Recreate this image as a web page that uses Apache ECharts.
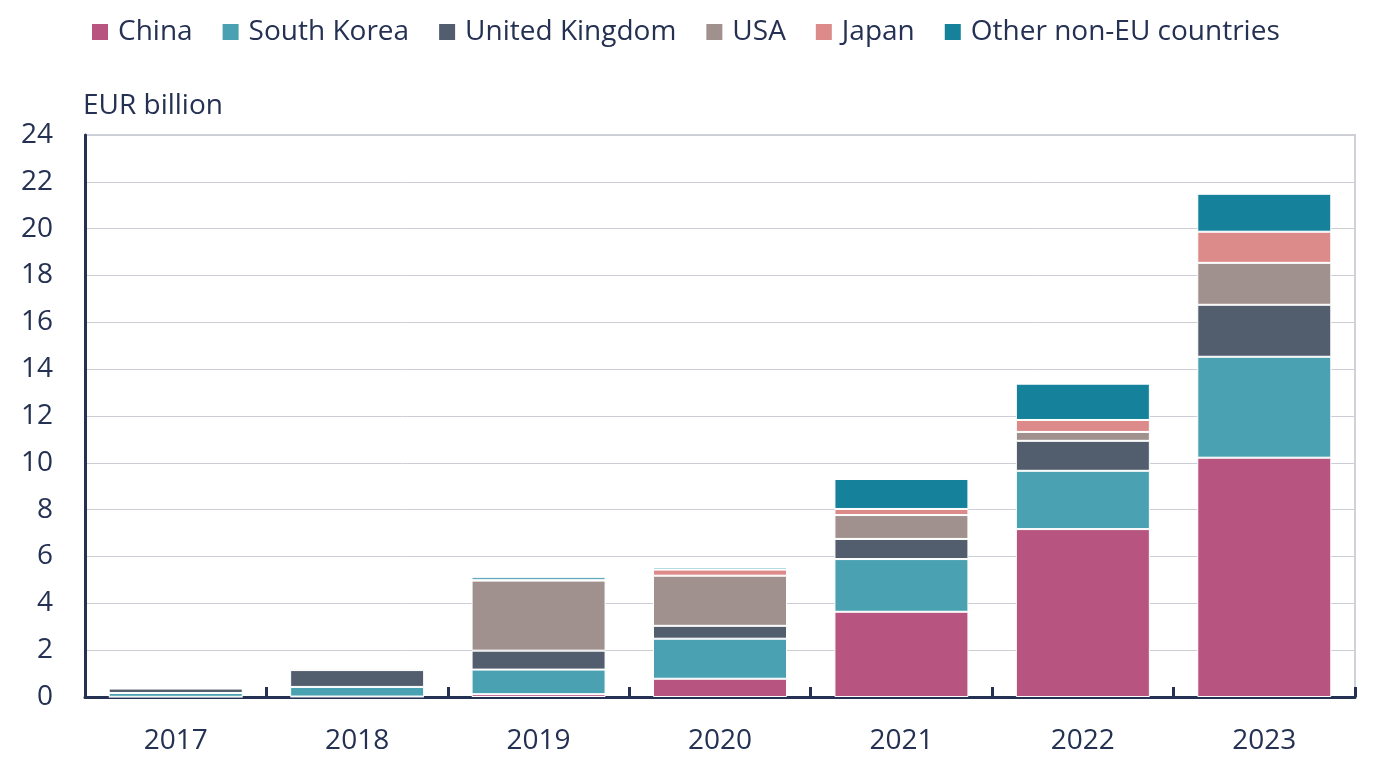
<!DOCTYPE html>
<html>
<head>
<meta charset="utf-8">
<script src="https://cdn.jsdelivr.net/npm/echarts@6/dist/echarts.min.js"></script>
<style>
html,body{margin:0;padding:0;background:#fff;}
#chart{width:1392px;height:766px;}
</style>
</head>
<body>
<div id="chart"></div>
<script>
const years = ['2017','2018','2019','2020','2021','2022','2023'];
const china = [0.01, 0.02, 0.12, 0.78, 3.64, 7.17, 10.22];
const southKorea = [0.16, 0.41, 1.05, 1.71, 2.25, 2.49, 4.31];
const unitedKingdom = [0.19, 0.72, 0.81, 0.55, 0.86, 1.28, 2.22];
const usa = [0.01, 0.08, 2.99, 2.14, 1.02, 0.38, 1.79];
const japan = [0.01, 0.01, 0.02, 0.26, 0.26, 0.51, 1.33];
const otherNonEU = [0.01, 0.01, 0.12, 0.09, 1.28, 1.55, 1.62];
const yTicks = [0, 24, 2];

const navy = '#253152';
const font = 'Open Sans';

const seriesDefs = [
  ['China', china, '#b7547f'],
  ['South Korea', southKorea, '#4aa1b1'],
  ['United Kingdom', unitedKingdom, '#525e6e'],
  ['USA', usa, '#a0918f'],
  ['Japan', japan, '#dc8b8a'],
  ['Other non-EU countries', otherNonEU, '#15819b']
];

const chart = echarts.init(document.getElementById('chart'), null, {renderer: 'canvas'});
chart.setOption({
  animation: false,
  textStyle: {fontFamily: font},
  legend: {
    top: 13,
    left: 85,
    itemWidth: 18,
    itemHeight: 18,
    itemGap: 28,
    icon: 'rect',
    textStyle: {fontFamily: font, fontSize: 28, color: navy, padding: [0, 0, 0, 4]},
    data: seriesDefs.map(d => d[0])
  },
  graphic: [{
    type: 'text',
    left: 83,
    top: 92,
    style: {text: 'EUR billion', font: '28px "Open Sans"', fill: navy}
  }],
  grid: {
    left: 85, right: 37, top: 135, bottom: 69,
    show: true, borderColor: '#cfd2d8', borderWidth: 2, backgroundColor: 'transparent'
  },
  xAxis: {
    type: 'category',
    data: years,
    boundaryGap: true,
    axisLine: {lineStyle: {color: navy, width: 3}},
    axisTick: {show: true, inside: true, length: 10, lineStyle: {color: navy, width: 3}},
    axisLabel: {fontFamily: font, fontSize: 28, color: navy, margin: 30}
  },
  yAxis: {
    type: 'value',
    min: yTicks[0], max: yTicks[1], interval: yTicks[2],
    axisLine: {show: true, lineStyle: {color: navy, width: 3}},
    axisTick: {show: false},
    axisLabel: {fontFamily: font, fontSize: 28, color: navy, margin: 32},
    splitLine: {lineStyle: {color: '#cdced5', width: 1}}
  },
  series: seriesDefs.map(d => ({
    name: d[0],
    type: 'bar',
    stack: 'total',
    data: d[1],
    barWidth: 134,
    itemStyle: {color: d[2], borderColor: '#ffffff', borderWidth: 1}
  }))
});
</script>
</body>
</html>
